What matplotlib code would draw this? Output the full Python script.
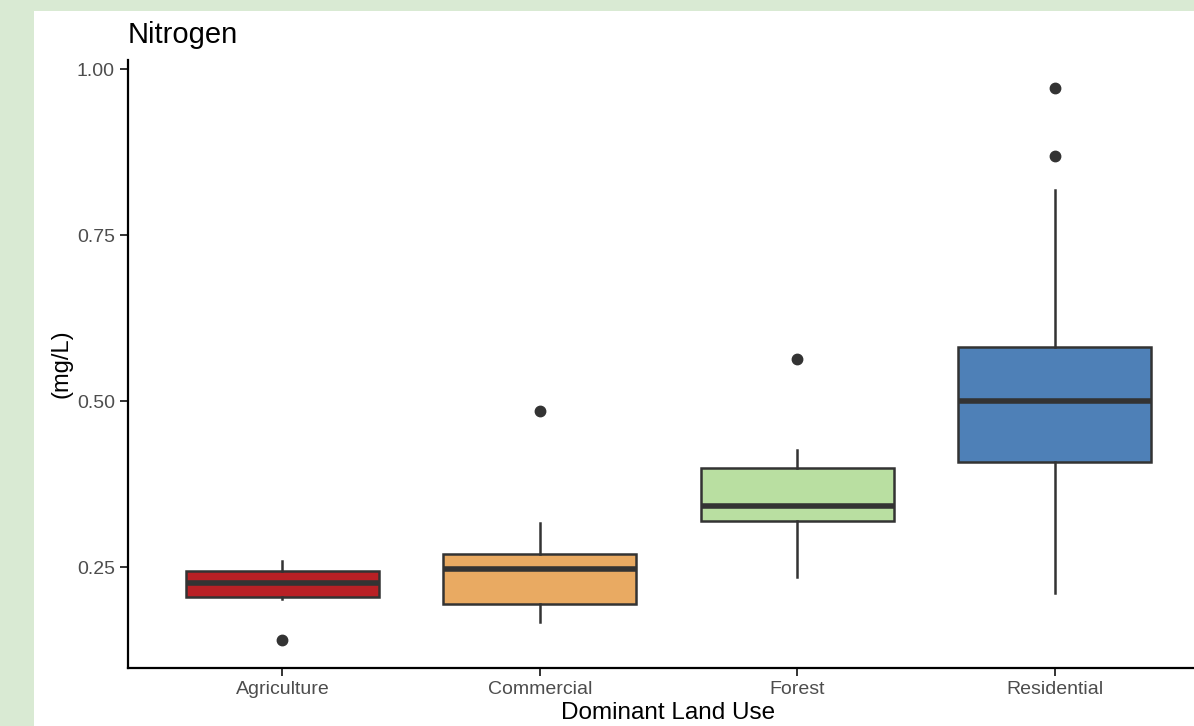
import matplotlib
matplotlib.use("Agg")
import matplotlib.pyplot as plt
from matplotlib.patches import Rectangle

plt.rcParams['font.family'] = ['Liberation Sans', 'DejaVu Sans']

# values (mg/L)
categories = ['Agriculture', 'Commercial', 'Forest', 'Residential']
whislo = [0.202, 0.168, 0.236, 0.211]
q1 = [0.205, 0.195, 0.319, 0.408]
med = [0.226, 0.248, 0.343, 0.500]
q3 = [0.245, 0.2705, 0.400, 0.581]
whishi = [0.259, 0.316, 0.426, 0.818]
fliers = [[0.140], [0.486], [0.564], [0.869, 0.971]]
fill_colors = ['#b92025', '#e9aa62', '#b9dfa1', '#4e80b7']

W, H = 1194, 726
fig = plt.figure(figsize=(W / 100, H / 100), dpi=100)
fig.patch.set_facecolor('#d9ead3')
# white panel inset from the green border
fig.patches.append(Rectangle((34 / W, 0), 1, 1 - 11 / H, transform=fig.transFigure,
                             facecolor='white', edgecolor='none', zorder=-10))

# axes span 128..1209 px horizontally (cropped on the right), 60..668 px vertically
ax = fig.add_axes([128 / W, 1 - 668 / H, (1209 - 128) / W, (668 - 60) / H])
ax.set_facecolor('none')
ax.set_zorder(1)

stats = []
for i, name in enumerate(categories):
    stats.append(dict(label=name, whislo=whislo[i], q1=q1[i], med=med[i],
                      q3=q3[i], whishi=whishi[i], fliers=fliers[i]))

edge = '#333333'
bp = ax.bxp(stats, positions=range(1, len(categories) + 1), widths=0.75,
            patch_artist=True, showcaps=False,
            boxprops=dict(edgecolor=edge, linewidth=1.8),
            whiskerprops=dict(color=edge, linewidth=1.8),
            medianprops=dict(color=edge, linewidth=4, solid_capstyle='butt'),
            flierprops=dict(marker='o', markerfacecolor=edge, markeredgecolor=edge,
                            markersize=7.5))
for patch, c in zip(bp['boxes'], fill_colors):
    patch.set_facecolor(c)

ax.set_xlim(0.4, 4.6)
ax.set_ylim(0.0984, 1.0136)
ax.set_yticks([0.25, 0.50, 0.75, 1.00])
ax.set_yticklabels(['0.25', '0.50', '0.75', '1.00'])

for s in ['top', 'right']:
    ax.spines[s].set_visible(False)
for s in ['left', 'bottom']:
    ax.spines[s].set_linewidth(1.6)
    ax.spines[s].set_color('black')
ax.tick_params(axis='both', length=5.5, width=1.4, color='#333333',
               labelsize=14, labelcolor='#4d4d4d', pad=4)

ax.set_xlabel('Dominant Land Use', fontsize=17.5, color='black', labelpad=3)
ax.set_ylabel('(mg/L)', fontsize=17, color='black', labelpad=3)
ax.set_title('Nitrogen', loc='left', fontsize=21, color='black', pad=12)

fig.savefig('out.png', dpi=100, facecolor=fig.get_facecolor())
